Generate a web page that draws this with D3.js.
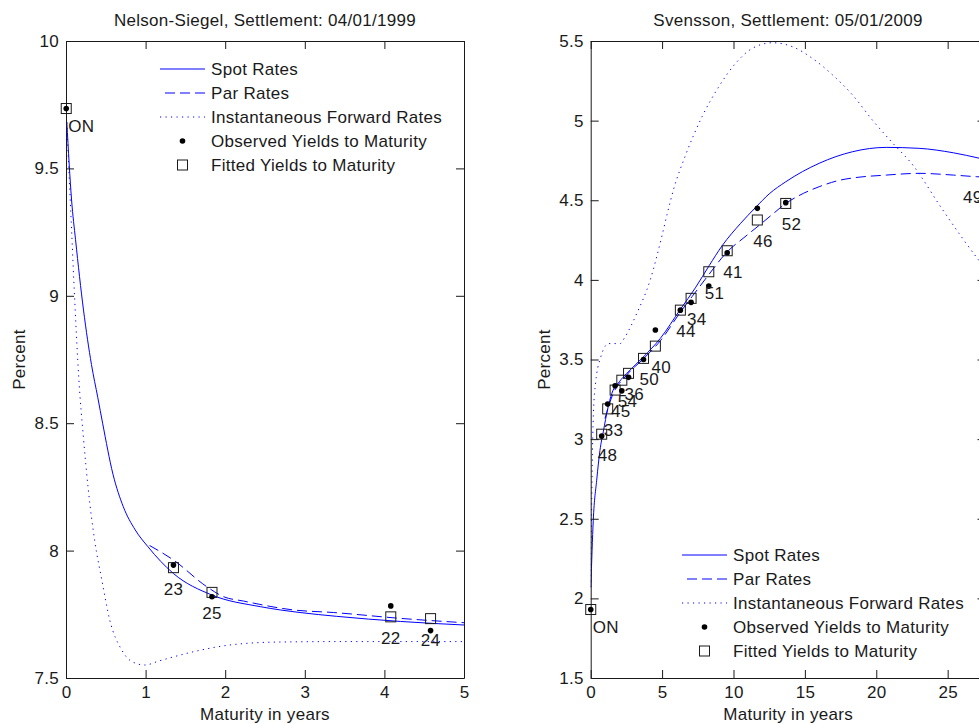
<!DOCTYPE html>
<html>
<head>
<meta charset="utf-8">
<script src="https://cdn.jsdelivr.net/npm/d3@7"></script>
<style>
body { margin: 0; background: #fff; }
svg { display: block; font-family: "Liberation Sans", Arial, sans-serif; }
</style>
</head>
<body>
<svg id="chart" width="979" height="724"></svg>
<script>
// ---- Nelson-Siegel, settlement 04/01/1999 ----
var nsSpotT = [0.01, 0.07, 0.12, 0.22, 0.32, 0.40, 0.46, 0.59, 0.72, 0.87, 1.03, 1.35, 1.83, 2.44, 2.94, 3.4, 4.2, 5.0];
var nsSpot  = [9.683, 9.376, 9.22, 8.944, 8.73, 8.60, 8.50, 8.30, 8.172, 8.081, 8.015, 7.91, 7.826, 7.78, 7.757, 7.742, 7.722, 7.708];
var nsParT  = [1.05, 1.35, 1.77, 1.98, 2.23, 2.86, 3.36, 4.2, 5.0];
var nsPar   = [8.02, 7.963, 7.858, 7.819, 7.802, 7.767, 7.757, 7.734, 7.717];
var nsFwdT  = [0.01, 0.04, 0.07, 0.11, 0.16, 0.22, 0.28, 0.36, 0.45, 0.55, 0.70, 0.83, 0.99, 1.18, 1.6, 2.02, 2.65, 3.5, 5.0];
var nsFwd   = [9.68, 9.47, 9.26, 8.98, 8.68, 8.44, 8.24, 8.04, 7.885, 7.727, 7.61, 7.564, 7.551, 7.568, 7.603, 7.628, 7.641, 7.643, 7.643];
var nsBond   = ["ON", "23", "25", "22", "24"];
var nsMat    = [0.003, 1.35, 1.834, 4.08, 4.58];
var nsObs    = [9.735, 7.943, 7.819, 7.783, 7.686];
var nsFitted = [9.735, 7.933, 7.836, 7.74, 7.733];
var nsXTicks = [0, 1, 2, 3, 4, 5];
var nsYTicks = [7.5, 8, 8.5, 9, 9.5, 10];

// ---- Svensson, settlement 05/01/2009 ----
var svSpotT = [0.01, 0.18, 0.42, 0.65, 0.89, 1.19, 1.48, 2.0, 2.53, 3.7, 4.87, 6.28, 7.33, 8.3, 9.21, 10.5, 11.55, 12.5, 13.66, 16.0, 18.35, 20.7, 23.0, 25.4, 27.26, 27.65];
var svSpot  = [2.07, 2.49, 2.742, 2.93, 3.05, 3.19, 3.287, 3.36, 3.413, 3.517, 3.632, 3.815, 3.95, 4.09, 4.215, 4.355, 4.455, 4.54, 4.616, 4.732, 4.805, 4.832, 4.826, 4.798, 4.763, 4.755];
var svParT  = [1.0, 1.5, 2.5, 3.7, 4.9, 6.3, 7.1, 8.16, 9.56, 10.73, 11.9, 12.84, 13.66, 14.5, 16.0, 17.5, 18.35, 20.7, 23.0, 25.4, 27.0, 27.65];
var svPar   = [3.13, 3.27, 3.40, 3.505, 3.62, 3.80, 3.895, 4.02, 4.176, 4.265, 4.35, 4.42, 4.48, 4.525, 4.585, 4.627, 4.64, 4.658, 4.669, 4.658, 4.648, 4.645];
var svFwdT  = [0.01, 0.05, 0.1, 0.19, 0.35, 0.5, 0.65, 0.9, 1.24, 1.7, 2.06, 2.41, 3.23, 4.17, 5.0, 5.4, 5.81, 6.63, 7.8, 8.97, 10.15, 11.32, 12.73, 14.13, 15.54, 16.95, 18.35, 19.76, 21.17, 22.57, 24.5, 25.97, 27.26, 27.65];
var svFwd   = [2.07, 2.45, 2.8, 3.16, 3.36, 3.45, 3.50, 3.565, 3.60, 3.60, 3.60, 3.643, 3.79, 4.0, 4.28, 4.43, 4.57, 4.78, 5.025, 5.213, 5.36, 5.454, 5.489, 5.464, 5.39, 5.286, 5.16, 5.0, 4.857, 4.72, 4.46, 4.27, 4.114, 4.07];
var svBond   = ["ON", "48", "33", "45", "54", "36", "50", "40", "44", "34", "51", "41", "46", "52", "49"];
var svMat    = [0.003, 0.77, 1.19, 1.71, 2.18, 2.65, 3.70, 4.53, 6.28, 7.03, 8.27, 9.56, 11.67, 13.66, 27.65];
var svObs    = [1.93, 3.019, 3.22, 3.335, 3.303, 3.388, 3.50, 3.685, 3.81, 3.859, 3.961, 4.17, 4.449, 4.485, 4.66];
var svFitted = [1.93, 3.031, 3.19, 3.308, 3.37, 3.413, 3.507, 3.584, 3.81, 3.884, 4.051, 4.183, 4.376, 4.48, 4.655];
var svXTicks = [0, 5, 10, 15, 20, 25];
var svYTicks = [1.5, 2, 2.5, 3, 3.5, 4, 4.5, 5, 5.5];

var legendNames = ["Spot Rates", "Par Rates", "Instantaneous Forward Rates", "Observed Yields to Maturity", "Fitted Yields to Maturity"];

var blue = "#0000ff";
var ink = "#1a1a1a";
var fs = 17;
var dotted = "1.2,4.3";
var dashed = "10,5";

var svg = d3.select("#chart");

function drawPanel(p) {
    var x = d3.scaleLinear().domain(p.xDomain).range([p.left, p.right]);
    var y = d3.scaleLinear().domain(p.yDomain).range([p.bottom, p.top]);
    var g = svg.append("g");

    g.append("clipPath").attr("id", p.id + "clip")
        .append("rect").attr("x", p.left).attr("y", p.top)
        .attr("width", p.right - p.left).attr("height", p.bottom - p.top);

    var line = d3.line()
        .x(function (d) { return x(d[0]); })
        .y(function (d) { return y(d[1]); })
        .curve(d3.curveMonotoneX);

    var curves = g.append("g").attr("clip-path", "url(#" + p.id + "clip)")
        .attr("fill", "none").attr("stroke", blue).attr("stroke-width", 1);
    curves.append("path").datum(d3.zip(p.fwdT, p.fwd)).attr("d", line).attr("stroke-dasharray", dotted);
    curves.append("path").datum(d3.zip(p.parT, p.par)).attr("d", line).attr("stroke-dasharray", dashed);
    curves.append("path").datum(d3.zip(p.spotT, p.spot)).attr("d", line);

    // axes, ticks inside on all four sides (box on)
    var fmt = function (d) { return String(d); };
    var axB = g.append("g").attr("transform", "translate(0," + p.bottom + ")")
        .call(d3.axisBottom(x).tickValues(p.xTicks).tickFormat(fmt).tickSizeInner(-8).tickSizeOuter(0).tickPadding(8));
    var axL = g.append("g").attr("transform", "translate(" + p.left + ",0)")
        .call(d3.axisLeft(y).tickValues(p.yTicks).tickFormat(fmt).tickSizeInner(-8).tickSizeOuter(0).tickPadding(7));
    var axT = g.append("g").attr("transform", "translate(0," + p.top + ")")
        .call(d3.axisTop(x).tickValues(p.xTicks).tickFormat("").tickSizeInner(-8).tickSizeOuter(0));
    var axR = g.append("g").attr("transform", "translate(" + p.right + ",0)")
        .call(d3.axisRight(y).tickValues(p.yTicks).tickFormat("").tickSizeInner(-8).tickSizeOuter(0));
    [axB, axL, axT, axR].forEach(function (a) {
        a.attr("font-size", fs).attr("font-family", null);
        a.selectAll("path, line").attr("stroke", ink);
        a.selectAll("text").attr("fill", ink).attr("letter-spacing", 0.3);
    });

    // markers
    var pts = d3.range(p.mat.length).map(function (i) {
        return { name: p.bond[i], t: p.mat[i], obs: p.obs[i], fit: p.fit[i] };
    });
    g.selectAll("rect.fit").data(pts).enter().append("rect").attr("class", "fit")
        .attr("x", function (d) { return x(d.t) - 5; })
        .attr("y", function (d) { return y(d.fit) - 5; })
        .attr("width", 10).attr("height", 10)
        .attr("fill", "none").attr("stroke", ink).attr("stroke-width", 1);
    g.selectAll("circle.obs").data(pts).enter().append("circle").attr("class", "obs")
        .attr("cx", function (d) { return x(d.t); })
        .attr("cy", function (d) { return y(d.obs); })
        .attr("r", 2.8).attr("fill", "#000");
    g.selectAll("text.bond").data(pts).enter().append("text").attr("class", "bond")
        .attr("x", function (d) { return d.name === "ON" ? x(d.t) + 2 : x(d.t) + p.labelDx; })
        .attr("y", function (d) { return y(d.fit) + (d.name === "ON" ? 18 : 21); })
        .attr("dy", "0.35em")
        .attr("text-anchor", function (d) { return d.name === "ON" ? "start" : p.labelAnchor; })
        .attr("font-size", fs).attr("letter-spacing", 0.3).attr("fill", ink)
        .text(function (d) { return d.name; })
        .each(function () {
            // keep a label that would run past the axes box inside it
            if (p.labelAnchor !== "start") return;
            var t = d3.select(this), w = this.getComputedTextLength();
            var x0 = +t.attr("x");
            if (x0 + w > p.right) t.attr("x", p.right - w - 3);
        });

    // titles
    var cx = (p.left + p.right) / 2;
    g.append("text").attr("x", cx).attr("y", 26).attr("text-anchor", "middle")
        .attr("font-size", fs).attr("letter-spacing", 0.3).attr("fill", ink).text(p.title);
    g.append("text").attr("x", cx).attr("y", 720).attr("text-anchor", "middle")
        .attr("font-size", fs).attr("letter-spacing", 0.3).attr("fill", ink).text("Maturity in years");
    g.append("text").attr("transform", "translate(" + (p.left - 41) + "," + ((p.top + p.bottom) / 2) + ") rotate(-90)")
        .attr("text-anchor", "middle").attr("font-size", fs).attr("letter-spacing", 0.3).attr("fill", ink).text("Percent");

    // legend (no box)
    var lg = g.append("g").attr("transform", "translate(" + p.legX + "," + p.legY + ")");
    var rowH = 24, sw = 45;
    legendNames.forEach(function (name, i) {
        var yy = i * rowH;
        if (i === 0) lg.append("line").attr("x1", 0).attr("x2", sw).attr("y1", yy).attr("y2", yy).attr("stroke", blue);
        if (i === 1) lg.append("line").attr("x1", 5).attr("x2", sw).attr("y1", yy).attr("y2", yy).attr("stroke", blue).attr("stroke-dasharray", dashed);
        if (i === 2) lg.append("line").attr("x1", 0).attr("x2", sw).attr("y1", yy).attr("y2", yy).attr("stroke", blue).attr("stroke-dasharray", dotted);
        if (i === 3) lg.append("circle").attr("cx", sw / 2).attr("cy", yy).attr("r", 2.8).attr("fill", "#000");
        if (i === 4) lg.append("rect").attr("x", sw / 2 - 5).attr("y", yy - 5).attr("width", 10).attr("height", 10).attr("fill", "none").attr("stroke", ink);
        lg.append("text").attr("x", sw + 6).attr("y", yy).attr("dy", "0.35em")
            .attr("font-size", fs).attr("letter-spacing", 0.3).attr("fill", ink).text(name);
    });
}

drawPanel({
    id: "ns", title: "Nelson-Siegel, Settlement: 04/01/1999",
    left: 66, right: 464, top: 41, bottom: 678,
    xDomain: [0, 5], yDomain: [7.5, 10], xTicks: nsXTicks, yTicks: nsYTicks,
    spotT: nsSpotT, spot: nsSpot, parT: nsParT, par: nsPar, fwdT: nsFwdT, fwd: nsFwd,
    bond: nsBond, mat: nsMat, obs: nsObs, fit: nsFitted,
    labelAnchor: "middle", labelDx: 0,
    legX: 160, legY: 69
});

drawPanel({
    id: "sv", title: "Svensson, Settlement: 05/01/2009",
    left: 590.7, right: 985.5, top: 41, bottom: 678,
    xDomain: [0, 27.65], yDomain: [1.5, 5.5], xTicks: svXTicks, yTicks: svYTicks,
    spotT: svSpotT, spot: svSpot, parT: svParT, par: svPar, fwdT: svFwdT, fwd: svFwd,
    bond: svBond, mat: svMat, obs: svObs, fit: svFitted,
    labelAnchor: "start", labelDx: -4,
    legX: 682, legY: 555
});
</script>
</body>
</html>
